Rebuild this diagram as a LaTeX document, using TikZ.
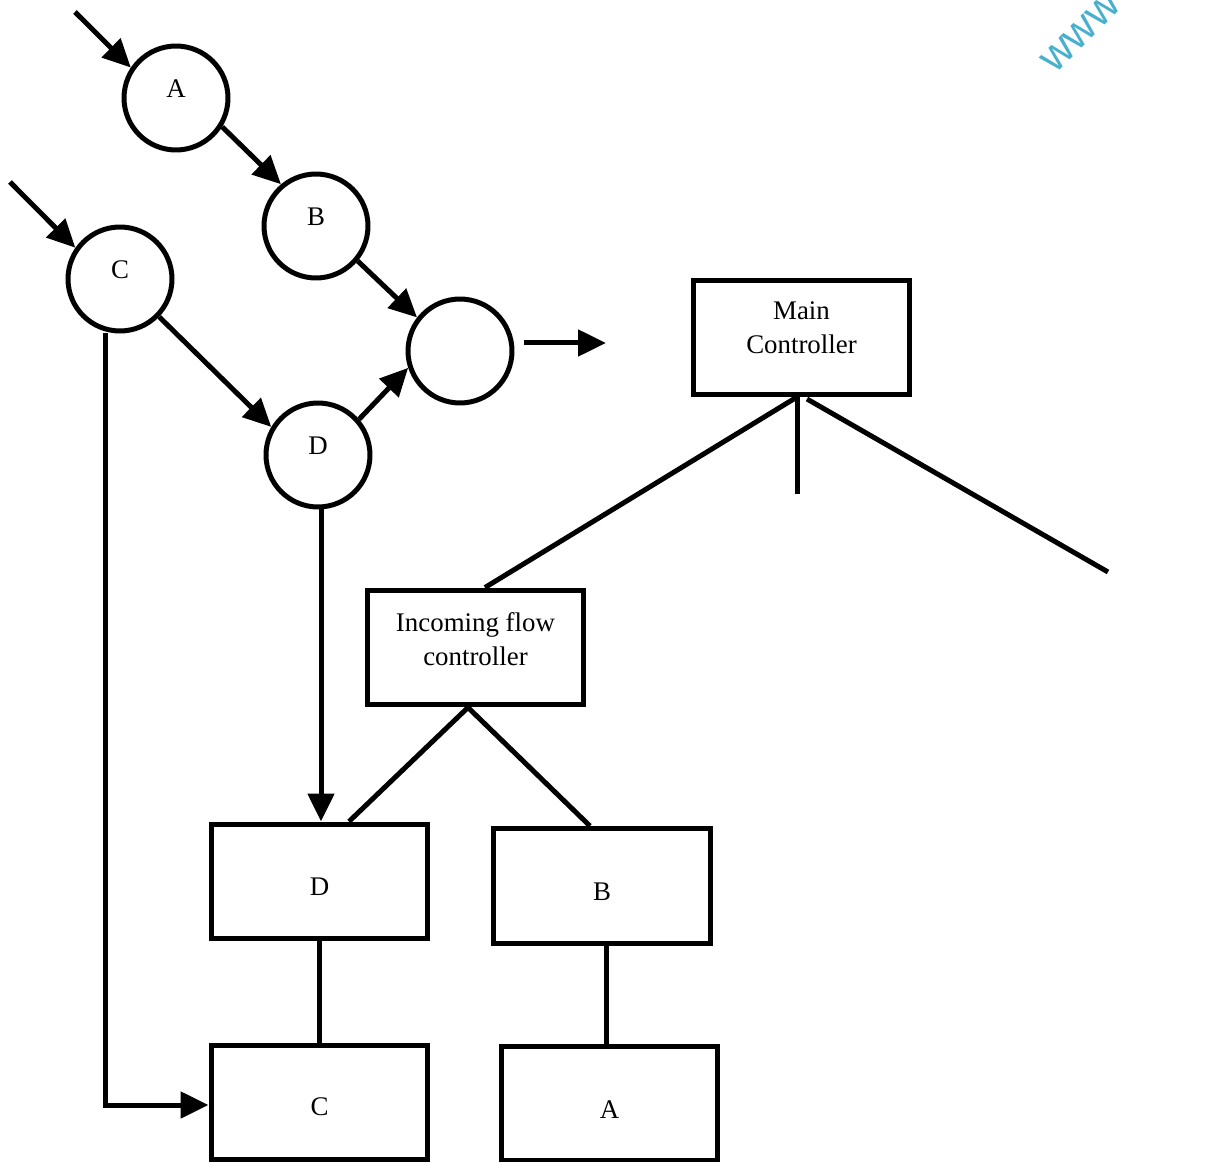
\documentclass[tikz,border=0pt]{standalone}
\usepackage{fontspec}
\setmainfont{Liberation Serif}
\setsansfont{Liberation Sans}
\usetikzlibrary{arrows.meta}
\definecolor{markcyan}{RGB}{72,176,206}
\tikzset{
  every picture/.style={x=0.02cm,y=-0.02cm},
  txt/.style={font=\fontsize{15.3}{19.5}\selectfont,align=center},
  wire/.style={line width=0.1cm},
  flow/.style={wire,-{Triangle[length=0.56cm,width=0.52cm]}},
  bubble/.style={circle,draw,line width=0.1cm,minimum size=2.08cm,inner sep=0pt},
  blockbox/.style={rectangle,draw,line width=0.1cm,minimum width=4.34cm,minimum height=2.3cm,
                   inner sep=0pt},
}
\begin{document}
\begin{tikzpicture}
\useasboundingbox (0,0) rectangle (1208,1162);
\clip (0,0) rectangle (1208,1162);

% site mark in the corner
\node[text=markcyan, font=\sffamily\fontsize{25}{25}\selectfont, rotate=45]
  (mark) at (1081,33) {www};

% process bubbles
\node[bubble, label={[txt,yshift=0.18cm]center:A}] (cA) at (176,98) {};
\node[bubble, label={[txt,yshift=0.18cm]center:B}] (cB) at (316,226) {};
\node[bubble, label={[txt,yshift=0.18cm]center:C}] (cC) at (120,279) {};
\node[bubble, label={[txt,yshift=0.18cm]center:D}] (cD) at (318,455) {};
\node[bubble] (cE) at (460,351) {};

\coordinate (inA) at (75,12);
\coordinate (inC) at (10,182);
\coordinate (outS) at (524,343);
\coordinate (outE) at (606,343);

\draw[flow] (inA) -- (cA.146);
\draw[flow] (inC) -- (cC.145);
\draw[flow] (cA.-32) -- (cB.130);
\draw[flow] (cB.-40) -- (cE.142);
\draw[flow] (cC.-44) -- (cD.149);
\draw[flow] (cD.41) -- (cE.-162);
\draw[flow] (outS) -- (outE);

% controller hierarchy
\node[blockbox, label={[txt,yshift=0.19cm]center:Main\\Controller}] (main) at (801.5,337.5) {};
\node[blockbox, label={[txt,yshift=0.17cm]center:Incoming flow\\controller}] (inc) at (475.5,647.5) {};
\node[blockbox, label={[txt,yshift=-0.11cm]center:D}] (bD) at (319.5,881.5) {};
\node[blockbox, label={[txt,yshift=-0.12cm]center:B}] (bB) at (602,886) {};
\node[blockbox, label={[txt,yshift=-0.09cm]center:C}] (bC) at (319.5,1102.5) {};
\node[blockbox, label={[txt,yshift=-0.13cm]center:A}] (bA) at (609.5,1103.5) {};

\coordinate (mainL) at (797,397);
\coordinate (mainR) at (807,399);
\coordinate (stubE) at (797,494);
\coordinate (farE) at (1108,572);

\draw[wire] (mainL) -- (inc.north -| 485,0);
\draw[wire] (mainL) -- (stubE);
\draw[wire] (mainR) -- (farE);

\draw[wire] (inc.south -| 468,0) -- (bD.north -| 349,0);
\draw[wire] (inc.south -| 468,0) -- (bB.north -| 590,0);
\draw[wire] (bD.south) -- (bC.north);
\draw[wire] (bB.south -| 606,0) -- (bA.north -| 606,0);

% data paths from the bubbles into the boxes
\draw[flow] (cD.south -| 321,0) -- (bD.north -| 321,0);
\draw[flow] (cC.south -| 105,0) -- (105,1105) -- (bC.west |- 0,1105);
\end{tikzpicture}
\end{document}
